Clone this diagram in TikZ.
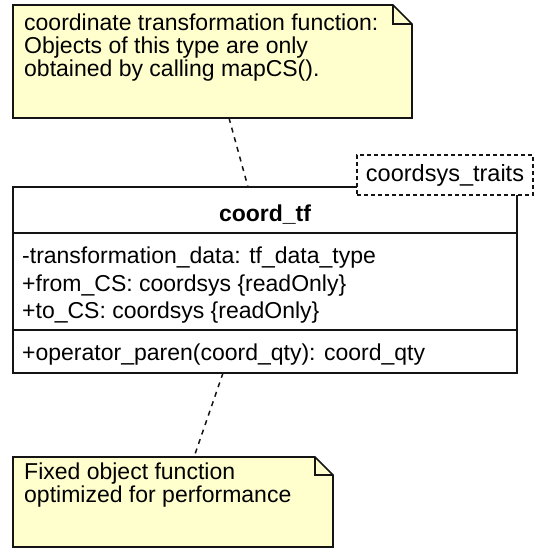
\documentclass[tikz,border=0pt]{standalone}
\usepackage{fontspec}
\setmainfont{Liberation Sans}
\definecolor{notefill}{RGB}{255,255,206}
\definecolor{edge}{RGB}{20,20,20}
\tikzset{
  txt/.style={anchor=base west, inner sep=0pt, font=\fontsize{23}{23}\selectfont},
  ttl/.style={anchor=base, inner sep=0pt, font=\fontsize{23}{23}\selectfont\bfseries},
  notebox/.style={draw=edge, fill=notefill, line width=1.6pt, line join=miter},
  classbox/.style={draw=edge, fill=white, line width=1.6pt},
  link/.style={draw=edge, line width=1.5pt, dash pattern=on 5pt off 5pt},
  tmpl/.style={draw=edge, fill=white, line width=1.4pt, dash pattern=on 4pt off 3pt, inner sep=0pt, minimum width=176pt, minimum height=40pt, font=\fontsize{23.5}{23}\selectfont}
}
\begin{document}
\begin{tikzpicture}[x=1pt,y=-1pt]
\useasboundingbox (0,0) rectangle (539,548);
% top note
\path[notebox] (13,5) -- (393,5) -- (412,24) -- (412,118) -- (13,118) -- cycle;
\draw[edge, line width=1.6pt] (393,5) -- (393,24) -- (412,24);
\node[txt] (n1a) at (24,31) {coordinate transformation function:};
\node[txt] (n1b) at (24,54) {Objects of this type are only};
\node[txt] (n1c) at (24,77) {obtained by calling mapCS().};
% class box
\path[classbox] (13,187) rectangle (517,373);
\draw[edge, line width=1.6pt] (13,233) -- (517,233);
\draw[edge, line width=1.6pt] (13,330) -- (517,330);
\node[ttl] (title) at (265,221) {coord\_tf};
\node[txt] (a1) at (22,263) {-transformation\_data: tf\_data\_type};
\node[txt] (a2) at (22,291) {+from\_CS: coordsys \{readOnly\}};
\node[txt] (a3) at (22,318) {+to\_CS: coordsys \{readOnly\}};
\node[txt] (o1) at (22,360) {+operator\_paren(coord\_qty): coord\_qty};
\node[tmpl] (tp) at (445,175) {coordsys\_traits};
% bottom note
\path[notebox] (13,457) -- (315,457) -- (333,475) -- (333,547) -- (13,547) -- cycle;
\draw[edge, line width=1.6pt] (315,457) -- (315,475) -- (333,475);
\node[txt] (n2a) at (24,479) {Fixed object function};
\node[txt] (n2b) at (24,502) {optimized for performance};
% connectors
\coordinate (n1bot) at (229,118);
\coordinate (ctop) at (248,187);
\coordinate (cbot) at (223,373);
\coordinate (n2top) at (194,457);
\draw[link] (n1bot) -- (ctop);
\draw[link] (cbot) -- (n2top);
\end{tikzpicture}
\end{document}
